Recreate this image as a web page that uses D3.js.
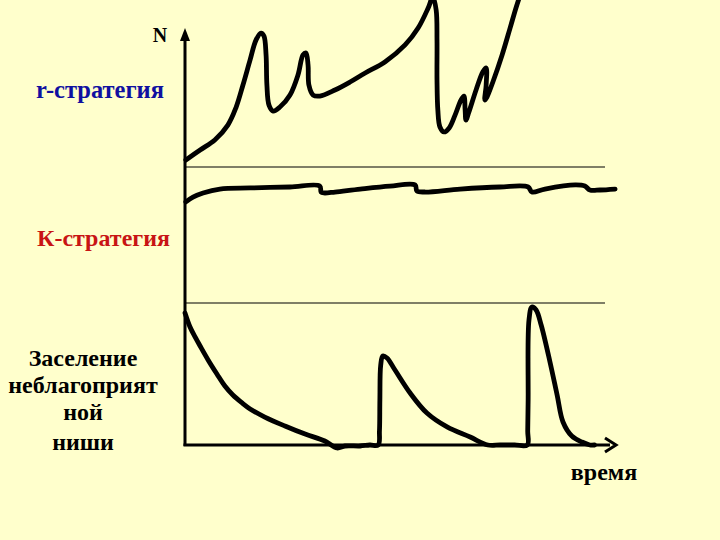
<!DOCTYPE html>
<html>
<head>
<meta charset="utf-8">
<script src="https://cdn.jsdelivr.net/npm/d3@7"></script>
<style>
html,body{margin:0;padding:0;background:#FFFFCC;}
svg{display:block;}
</style>
</head>
<body>
<script>
// ---- data (time t in arbitrary units, N per panel in relative units) ----
const rStrategy = [
  [0.2,4.2],[3.6,10.2],[7.1,16.2],[10.2,25.1],[12.1,35.3],[13.8,49.1],[15.5,64.1],
  [16.9,76.0],[18.1,80.2],[18.8,78.4],[19.3,67.1],[19.5,49.1],[20.0,37.1],[21.0,33.5],
  [22.6,35.9],[25.0,43.1],[26.9,55.1],[28.1,67.1],[28.8,68.3],[29.3,61.1],[29.5,49.1],
  [30.5,43.1],[32.1,42.5],[35.7,46.1],[39.3,50.9],[42.9,56.3],[47.6,62.9],[52.4,73.1],
  [55.5,83.2],[57.9,95.2],[59.0,101.8],[59.8,94.0],[60.0,76.0],[60.0,52.1],[60.2,34.1],
  [60.7,24.0],[61.7,21.0],[62.9,23.4],[64.3,31.1],[65.7,40.1],[66.4,42.5],[66.7,34.1],
  [66.9,28.1],[67.6,32.9],[69.3,46.1],[70.9,56.9],[71.7,59.3],[71.7,49.1],[71.4,40.1],
  [71.9,41.9],[73.3,50.9],[75.5,67.1],[77.4,83.2],[78.8,95.2],[79.8,103.0]
];
const kStrategy = [
  [0.2,74.3],[1.9,77.9],[4.3,80.9],[8.3,83.8],[15.5,84.6],[25.0,85.3],[32.1,86.0],
  [32.4,81.6],[33.1,80.9],[35.7,81.6],[41.7,83.8],[48.8,86.0],[54.8,86.8],[55.2,82.4],
  [57.1,81.6],[65.5,83.8],[75.0,85.3],[81.7,85.3],[82.6,81.6],[85.7,83.8],[92.9,86.8],
  [95.2,86.0],[96.4,83.1],[98.8,83.1],[102.4,83.8]
];
const unfavorableNiche = [
  [0,93.0],[1.2,83.1],[2.4,76.1],[3.6,69.7],[5.5,59.9],[7.6,50.0],[9.5,41.5],[11.4,35.2],
  [13.6,29.6],[15.5,25.4],[19.0,19.7],[23.8,13.4],[28.6,7.7],[33.3,2.8],[36.2,-2.1],
  [38.1,-0.7],[41.7,-0.7],[44.0,0],[46.0,0],
  [46.3,10],[46.4,31.7],[46.6,56.3],[47.1,62.7],[48.1,61.3],[50.0,52.8],[53.6,36.6],
  [57.6,22.5],[62.4,12.7],[67.9,5.6],[72.1,0],[75.0,0],[78.5,0],[81.5,0],[81.6,10],[81.7,31.7],
  [81.9,88.0],[82.6,97.2],[83.6,95.1],[84.8,84.5],[86.9,58.5],[88.6,35.2],[90.0,16.2],
  [92.1,6.3],[94.5,2.1],[96.4,0],[97.5,0]
];
const labels = {
  yAxis: "N",
  xAxis: "время",
  r: "r-стратегия",
  k: "К-стратегия",
  niche: ["Заселение","неблагоприят","ной","ниши"]
};

// ---- drawing ----
const W = 720, H = 540;
const svg = d3.select("body").append("svg").attr("width", W).attr("height", H);
svg.append("rect").attr("width", W).attr("height", H).attr("fill", "#FFFFCC");

const x = d3.scaleLinear().domain([0, 100]).range([185, 605]);
const yTop = d3.scaleLinear().domain([0, 100]).range([167, 0]);
const yMid = d3.scaleLinear().domain([0, 100]).range([303, 167]);
const yBot = d3.scaleLinear().domain([0, 100]).range([445, 303]);

// separators
[yTop(0), yMid(0)].forEach(yy => {
  svg.append("line").attr("x1", x(0)).attr("x2", x(100)).attr("y1", yy).attr("y2", yy)
    .attr("stroke", "#000").attr("stroke-width", 1.2);
});

// axes
const axisY0 = yBot(0);
svg.append("line").attr("x1", x(0)).attr("x2", x(0)).attr("y1", axisY0 + 1).attr("y2", 36)
  .attr("stroke", "#000").attr("stroke-width", 3);
svg.append("path").attr("d", `M${x(0)},28 L${x(0)-5},41 L${x(0)+5},41 Z`).attr("fill", "#000");
svg.append("line").attr("x1", x(0) - 1.5).attr("x2", 610).attr("y1", axisY0).attr("y2", axisY0)
  .attr("stroke", "#000").attr("stroke-width", 3);
svg.append("path").attr("d", `M605,438 L616,${axisY0} L605,452`).attr("fill", "none")
  .attr("stroke", "#000").attr("stroke-width", 3).attr("stroke-linejoin", "miter");

// curves
const mkLine = ys => d3.line().x(d => x(d[0])).y(d => ys(d[1])).curve(d3.curveCatmullRom.alpha(0.5));
const curveStyle = sel => sel.attr("fill", "none").attr("stroke", "#000").attr("stroke-width", 4.8)
  .attr("stroke-linecap", "round").attr("stroke-linejoin", "round");
svg.append("path").datum(rStrategy).attr("d", mkLine(yTop)).call(curveStyle);
svg.append("path").datum(kStrategy).attr("d", mkLine(yMid)).call(curveStyle);
svg.append("path").datum(unfavorableNiche).attr("d", mkLine(yBot)).call(curveStyle);

// texts
function label(cx, by, size, color, str) {
  return svg.append("text")
    .attr("x", cx).attr("y", by)
    .attr("text-anchor", "middle")
    .style("font-family", '"Liberation Serif"')
    .style("font-weight", "bold")
    .attr("font-size", size).attr("fill", color).text(str);
}
label(160, 42, 20, "#000", labels.yAxis);
label(100, 98, 24.5, "#1010A0", labels.r);
label(103.5, 246, 24, "#C81414", labels.k);
const baselines = [366, 393, 420, 450];
labels.niche.forEach((s, i) => label(83, baselines[i], 24, "#000", s));
label(604, 480, 24, "#000", labels.xAxis);
</script>
</body>
</html>
